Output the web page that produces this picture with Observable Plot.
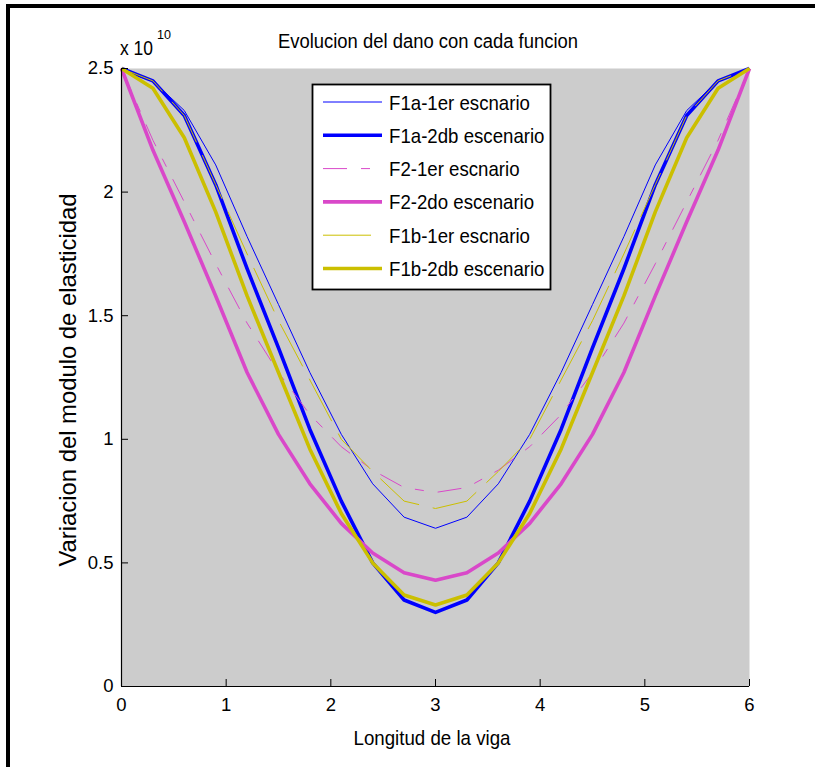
<!DOCTYPE html>
<html>
<head>
<meta charset="utf-8">
<script src="https://cdn.jsdelivr.net/npm/d3@7"></script>
<script src="https://cdn.jsdelivr.net/npm/@observablehq/plot@0.6"></script>
<style>
  html, body { margin: 0; padding: 0; background: #fff; }
  #wrap { position: relative; width: 815px; height: 767px; overflow: hidden; }
  #chart, #overlay { position: absolute; left: 0; top: 0; }
  #overlay { pointer-events: none; }
  #frameTop { position: absolute; left: 6px; top: 4px; width: 809px; height: 4px; background: #000; }
  #frameLeft { position: absolute; left: 6px; top: 4px; width: 4px; height: 763px; background: #000; }
</style>
</head>
<body>
<div id="wrap">
  <div id="chart"></div>
  <div id="frameTop"></div>
  <div id="frameLeft"></div>
  <svg id="overlay" width="815" height="767"></svg>
</div>
<script>
// ---- data (values in units of 1e10) ----
const xPos = [0, 0.3, 0.6, 0.9, 1.2, 1.5, 1.8, 2.1, 2.4, 2.7, 3.0, 3.3, 3.6, 3.9, 4.2, 4.5, 4.8, 5.1, 5.4, 5.7, 6.0];
const f1a1 = [2.5, 2.45, 2.33, 2.11, 1.82, 1.545, 1.27, 1.02, 0.82, 0.685, 0.64, 0.685, 0.82, 1.02, 1.27, 1.545, 1.82, 2.11, 2.33, 2.45, 2.5];
const f1a2 = [2.5, 2.45, 2.31, 2.03, 1.69, 1.37, 1.04, 0.75, 0.50, 0.35, 0.30, 0.35, 0.50, 0.75, 1.04, 1.37, 1.69, 2.03, 2.31, 2.45, 2.5];
const f2_1 = [2.5, 2.21, 1.96, 1.71, 1.47, 1.27, 1.10, 0.97, 0.875, 0.805, 0.785, 0.805, 0.875, 0.97, 1.10, 1.27, 1.47, 1.71, 1.96, 2.21, 2.5];
const f2_2 = [2.5, 2.17, 1.88, 1.58, 1.27, 1.02, 0.82, 0.66, 0.54, 0.46, 0.43, 0.46, 0.54, 0.66, 0.82, 1.02, 1.27, 1.58, 1.88, 2.17, 2.5];
const f1b1 = [2.5, 2.45, 2.31, 2.03, 1.75, 1.48, 1.24, 1.00, 0.87, 0.75, 0.72, 0.75, 0.87, 1.00, 1.24, 1.48, 1.75, 2.03, 2.31, 2.45, 2.5];
const f1b2 = [2.5, 2.42, 2.22, 1.92, 1.58, 1.27, 0.96, 0.70, 0.50, 0.37, 0.33, 0.37, 0.50, 0.70, 0.96, 1.27, 1.58, 1.92, 2.22, 2.42, 2.5];

const seriesNames = ["F1a-1er escnario", "F1a-2db escenario", "F2-1er escnario", "F2-2do escenario", "F1b-1er escnario", "F1b-2db escenario"];
const seriesValues = [f1a1, f1a2, f2_1, f2_2, f1b1, f1b2];

const xTicks = [0, 1, 2, 3, 4, 5, 6];
const yTicks = [0, 0.5, 1, 1.5, 2, 2.5];
const yTickLabels = ["0", "0.5", "1", "1.5", "2", "2.5"];

const titleText = "Evolucion del dano con cada funcion";
const xLabel = "Longitud de la viga";
const yLabel = "Variacion del modulo de elasticidad";

// ---- styles ----
const BLUE = "#0000ff", MAG = "#d948c9", YEL = "#cbbf00";
const styles = [
  {stroke: BLUE, strokeWidth: 1, dash: null},
  {stroke: BLUE, strokeWidth: 3.6, dash: null},
  {stroke: MAG, strokeWidth: 1, dash: "24,14,9,14"},
  {stroke: MAG, strokeWidth: 3.6, dash: null},
  {stroke: YEL, strokeWidth: 1, dash: "48,14"},
  {stroke: YEL, strokeWidth: 3.6, dash: null}
];

const FONT = "'Liberation Sans', Arial, Helvetica, sans-serif";

const W = 815, H = 767;
const mL = 121, mR = 66, mT = 68, mB = 81;
const plotW = W - mL - mR, plotH = H - mT - mB;

const lineMarks = seriesValues.map((vals, i) => {
  const data = xPos.map((x, j) => ({x, v: vals[j]}));
  const s = styles[i];
  return Plot.line(data, {
    x: "x", y: "v", stroke: s.stroke, strokeWidth: s.strokeWidth,
    strokeDasharray: s.dash || undefined, strokeLinejoin: "round", strokeLinecap: "butt"
  });
});

const chart = Plot.plot({
  width: W, height: H,
  marginLeft: mL, marginRight: mR, marginTop: mT, marginBottom: mB,
  style: {background: "transparent", fontFamily: FONT, color: "#000"},
  x: {domain: [0, 6]},
  y: {domain: [0, 2.5]},
  marks: [
    Plot.frame({fill: "#cccccc", stroke: null}),
    ...lineMarks,
    Plot.ruleY([0], {stroke: "#000", strokeWidth: 1.2}),
    Plot.ruleX([0], {stroke: "#000", strokeWidth: 1.2}),
    Plot.tickX(xTicks, {x: d => d, insetTop: plotH - 7, stroke: "#000", strokeWidth: 1}),
    Plot.tickY(yTicks, {y: d => d, insetRight: plotW - 7, stroke: "#000", strokeWidth: 1}),
    Plot.axisX(xTicks, {tickSize: 0, tickPadding: 11, fontSize: 18.5, label: null, tickFormat: d => String(d)}),
    Plot.axisY(yTicks, {tickSize: 0, tickPadding: 8, fontSize: 18.5, label: null, tickFormat: (d, i) => yTickLabels[i]})
  ]
});
document.getElementById("chart").appendChild(chart);

// ---- overlay: title, exponent, axis labels, legend ----
const ov = d3.select("#overlay").style("font-family", FONT);

function condense(sel, opts) {
  const node = sel.node();
  const natural = node.getComputedTextLength();
  const target = opts.width != null ? opts.width : natural * opts.factor;
  sel.attr("textLength", target).attr("lengthAdjust", "spacingAndGlyphs");
  return sel;
}

condense(ov.append("text").attr("x", 428).attr("y", 48).attr("text-anchor", "middle")
  .attr("font-size", 20).attr("fill", "#000").text(titleText), {width: 300});

condense(ov.append("text").attr("x", 120).attr("y", 55).attr("font-size", 21).attr("fill", "#000").text("x 10"), {width: 33});
condense(ov.append("text").attr("x", 157).attr("y", 39).attr("font-size", 12).attr("fill", "#000").text("10"), {width: 14});

condense(ov.append("text").attr("x", 432).attr("y", 745).attr("text-anchor", "middle")
  .attr("font-size", 21).attr("fill", "#000").text(xLabel), {width: 157});

condense(ov.append("text").attr("transform", "translate(76,380) rotate(-90)").attr("text-anchor", "middle")
  .attr("font-size", 24).attr("fill", "#000").text(yLabel), {width: 373});

// legend
const lg = ov.append("g");
lg.append("rect").attr("x", 312.5).attr("y", 84.5).attr("width", 238).attr("height", 205)
  .attr("fill", "#fff").attr("stroke", "#000").attr("stroke-width", 1.8);
seriesNames.forEach((name, i) => {
  const cy = 102 + i * 33.3;
  const s = styles[i];
  lg.append("line").attr("x1", 323).attr("x2", 382).attr("y1", cy).attr("y2", cy)
    .attr("stroke", s.stroke).attr("stroke-width", s.strokeWidth)
    .attr("stroke-dasharray", s.dash);
  condense(lg.append("text").attr("x", 389).attr("y", cy).attr("dy", "0.36em")
    .attr("font-size", 21).attr("fill", "#000").text(name), {factor: 0.888});
});
</script>
</body>
</html>
